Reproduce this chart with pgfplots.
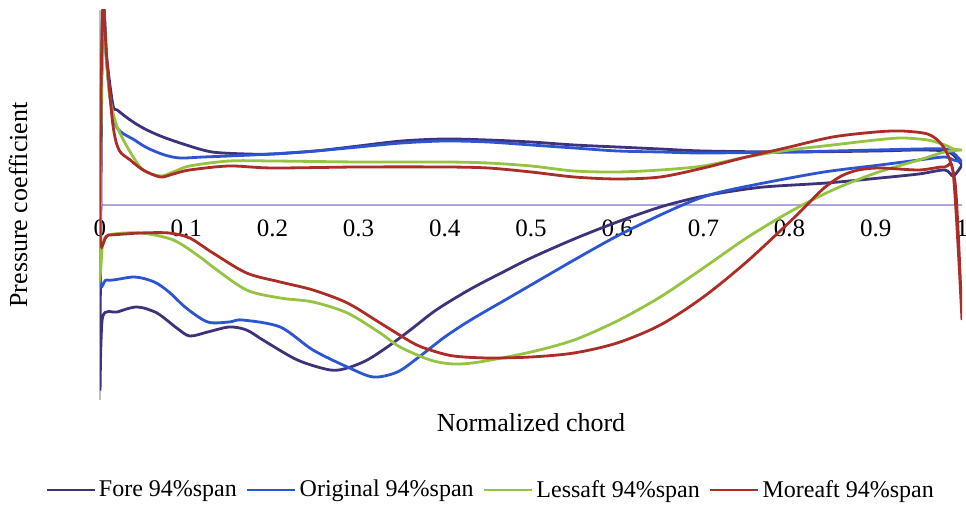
\documentclass[border=0pt]{standalone}
\usepackage{fontspec}
\setmainfont{Liberation Serif}
\usepackage{pgfplots}
\pgfplotsset{compat=1.18}
\definecolor{fore}{RGB}{62,50,125}
\definecolor{orig}{RGB}{45,85,210}
\definecolor{lessaft}{RGB}{150,195,65}
\definecolor{moreaft}{RGB}{170,45,40}
\definecolor{xaxcol}{RGB}{175,165,225}
\begin{document}
\begin{tikzpicture}
\begin{axis}[
  scale only axis, width=431pt, height=195pt,
  xmin=0, xmax=1, ymin=-1.95, ymax=1.95,
  axis x line=middle, axis y line=left,
  hide obscured x ticks=false,
  x axis line style={-, color=xaxcol, line width=0.6pt},
  y axis line style={-, color=black!25, line width=0.6pt},
  xtick={0,0.1,0.2,0.3,0.4,0.5,0.6,0.7,0.8,0.9,1},
  xticklabels={0,0.1,0.2,0.3,0.4,0.5,0.6,0.7,0.8,0.9,1},
  ytick=\empty, major tick length=0pt,
  xticklabel style={font=\fontsize{12.5}{14}\selectfont, yshift=-4pt},
  xlabel={Normalized chord}, ylabel={Pressure coefficient},
  xlabel style={at={(axis description cs:0.5,-0.059)}, anchor=center, font=\fontsize{13}{15}\selectfont},
  ylabel style={at={(axis description cs:-0.095,0.5)}, anchor=center, rotate=0, font=\fontsize{13}{15}\selectfont},
  legend columns=4,
  legend style={at={(axis description cs:0.4536,-0.231)}, anchor=center, draw=none, fill=none,
    font=\fontsize{12}{14}\selectfont, nodes={inner xsep=1.5pt},
    /tikz/every even column/.append style={column sep=3pt}},
  legend image code/.code={\draw[#1] (0pt,0pt) -- (24pt,0pt);},
  every axis plot/.append style={line width=1.4pt, smooth, tension=0.5},
]
\addplot[color=fore] coordinates {
(1.0,0.40)(0.99,0.50)(0.98,0.54)(0.95,0.55)(0.9,0.54)(0.8,0.53)(0.7,0.54)(0.65,0.56)(0.6,0.58)(0.55,0.60)(0.5,0.63)(0.45,0.65)(0.4,0.66)(0.35,0.64)(0.3,0.59)(0.25,0.54)(0.2,0.51)(0.17,0.51)(0.13,0.53)(0.1,0.60)(0.07,0.69)(0.05,0.77)(0.035,0.85)(0.02,0.95)(0.015,1.00)(0.008,1.45)(0.003,1.92)(0.0,-1.75)
(0.003,-1.12)(0.02,-1.07)(0.043,-1.02)(0.066,-1.08)(0.089,-1.23)(0.104,-1.31)(0.125,-1.27)(0.15,-1.22)(0.17,-1.25)(0.189,-1.35)(0.229,-1.55)(0.267,-1.65)(0.287,-1.63)(0.31,-1.55)(0.335,-1.41)(0.36,-1.25)(0.39,-1.05)(0.43,-0.84)(0.47,-0.66)(0.5,-0.53)(0.55,-0.34)(0.6,-0.17)(0.65,-0.02)(0.69,0.07)(0.72,0.12)(0.77,0.18)(0.843,0.22)(0.905,0.27)(0.95,0.31)(0.98,0.35)(0.99,0.29)(1.0,0.40)
};
\addlegendentry{Fore 94\%span}
\addplot[color=orig] coordinates {
(1.0,0.43)(0.99,0.52)(0.98,0.56)(0.95,0.56)(0.9,0.55)(0.8,0.53)(0.7,0.52)(0.65,0.53)(0.6,0.54)(0.55,0.57)(0.5,0.60)(0.45,0.63)(0.4,0.64)(0.35,0.62)(0.3,0.58)(0.25,0.54)(0.2,0.51)(0.15,0.49)(0.12,0.48)(0.093,0.47)(0.075,0.50)(0.055,0.57)(0.04,0.65)(0.02,0.77)(0.012,1.05)(0.007,1.50)(0.003,1.92)(0.0,-0.62)
(0.008,-0.75)(0.04,-0.72)(0.063,-0.77)(0.08,-0.87)(0.1,-1.03)(0.125,-1.17)(0.15,-1.17)(0.165,-1.15)(0.209,-1.22)(0.247,-1.45)(0.287,-1.62)(0.317,-1.72)(0.345,-1.67)(0.37,-1.52)(0.4,-1.32)(0.43,-1.15)(0.47,-0.95)(0.5,-0.80)(0.55,-0.55)(0.6,-0.31)(0.65,-0.10)(0.69,0.05)(0.72,0.13)(0.77,0.22)(0.84,0.33)(0.905,0.40)(0.95,0.45)(0.98,0.48)(0.99,0.45)(1.0,0.43)
};
\addlegendentry{Original 94\%span}
\addplot[color=lessaft] coordinates {
(1.0,0.55)(0.99,0.56)(0.98,0.60)(0.96,0.65)(0.93,0.67)(0.9,0.65)(0.85,0.60)(0.8,0.55)(0.75,0.48)(0.7,0.39)(0.65,0.35)(0.6,0.33)(0.55,0.34)(0.5,0.39)(0.45,0.42)(0.4,0.43)(0.3,0.43)(0.2,0.44)(0.15,0.44)(0.104,0.39)(0.085,0.33)(0.07,0.29)(0.05,0.35)(0.035,0.53)(0.02,0.78)(0.012,1.05)(0.007,1.50)(0.003,1.92)(0.0,-0.58)
(0.003,-0.40)(0.01,-0.30)(0.047,-0.28)(0.085,-0.35)(0.116,-0.52)(0.131,-0.62)(0.17,-0.85)(0.209,-0.93)(0.247,-0.97)(0.287,-1.08)(0.325,-1.28)(0.348,-1.42)(0.383,-1.55)(0.41,-1.59)(0.44,-1.57)(0.5,-1.47)(0.55,-1.35)(0.6,-1.16)(0.65,-0.92)(0.7,-0.63)(0.75,-0.33)(0.8,-0.07)(0.85,0.15)(0.9,0.32)(0.95,0.45)(0.98,0.53)(1.0,0.55)
};
\addlegendentry{Lessaft 94\%span}
\addplot[color=moreaft] coordinates {
(1.0,-1.15)(0.996,-0.35)(0.992,0.22)(0.985,0.47)(0.975,0.62)(0.96,0.71)(0.93,0.74)(0.9,0.73)(0.85,0.68)(0.8,0.58)(0.75,0.48)(0.7,0.37)(0.65,0.28)(0.6,0.26)(0.55,0.28)(0.5,0.33)(0.45,0.37)(0.4,0.38)(0.3,0.38)(0.2,0.37)(0.15,0.39)(0.104,0.35)(0.085,0.31)(0.07,0.28)(0.05,0.35)(0.035,0.45)(0.022,0.55)(0.015,0.80)(0.008,1.45)(0.003,1.92)(0.0,-0.28)
(0.01,-0.30)(0.047,-0.28)(0.08,-0.28)(0.104,-0.33)(0.131,-0.48)(0.17,-0.68)(0.209,-0.77)(0.247,-0.85)(0.287,-0.98)(0.325,-1.18)(0.363,-1.38)(0.383,-1.45)(0.41,-1.51)(0.45,-1.53)(0.5,-1.52)(0.55,-1.48)(0.6,-1.38)(0.65,-1.20)(0.7,-0.92)(0.75,-0.57)(0.8,-0.17)(0.82,0.00)(0.84,0.17)(0.86,0.29)(0.88,0.35)(0.905,0.37)(0.95,0.35)(0.98,0.38)(0.99,0.30)(1.0,-1.15)
};
\addlegendentry{Moreaft 94\%span}
\end{axis}
\pgfresetboundingbox
\path[use as bounding box] (-50pt,-53pt) rectangle (433pt,200pt);
\end{tikzpicture}
\end{document}
